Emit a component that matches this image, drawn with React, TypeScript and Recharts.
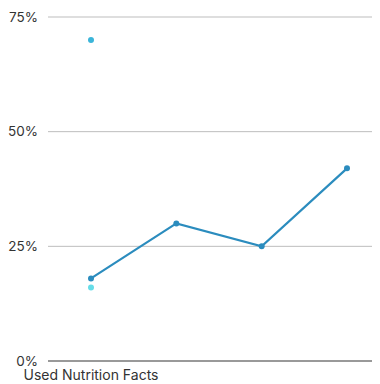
import { CartesianGrid, Line, LineChart, XAxis, YAxis } from "recharts";

const categories = ["Used Nutrition Facts", "Group 2", "Group 3", "Group 4"];
const mainValues = [18, 30, 25, 42];
const highValues = [70, null, null, null];
const lowValues = [16, null, null, null];
const yTicks = [0, 25, 50, 75];

const data = categories.map((cat, i) => ({
  cat,
  main: mainValues[i],
  high: highValues[i],
  low: lowValues[i],
}));

const font = "Inter, sans-serif";
const yTickStyle = { fill: "#333", fontSize: 13.5, fontFamily: font };
const xTickStyle = { fill: "#333", fontSize: 14, fontFamily: font };

export default function App() {
  return (
    <LineChart
      width={372}
      height={376}
      data={data}
      margin={{ top: 9, right: 0, bottom: 0, left: 0 }}
    >
      <CartesianGrid horizontal vertical={false} stroke="#bdbdbd" />
      <XAxis
        dataKey="cat"
        ticks={[categories[0]]}
        interval={0}
        height={23}
        padding={{ left: 43, right: 33 }}
        tickLine={false}
        tickSize={0}
        tickMargin={9}
        axisLine={{ stroke: "#555" }}
        tick={xTickStyle}
      />
      <YAxis
        width={40}
        domain={[0, 75]}
        ticks={yTicks}
        tickFormatter={(v) => `${v}%`}
        axisLine={false}
        tickLine={false}
        tickSize={0}
        tickMargin={10}
        tick={yTickStyle}
      />
      <Line
        dataKey="main"
        stroke="#2b8cbe"
        strokeWidth={2.2}
        dot={{ r: 3, fill: "#2b8cbe", stroke: "none" }}
        isAnimationActive={false}
      />
      <Line
        dataKey="high"
        stroke="none"
        dot={{ r: 3, fill: "#3bb5d9", stroke: "none" }}
        isAnimationActive={false}
      />
      <Line
        dataKey="low"
        stroke="none"
        dot={{ r: 3, fill: "#66dde8", stroke: "none" }}
        isAnimationActive={false}
      />
    </LineChart>
  );
}
